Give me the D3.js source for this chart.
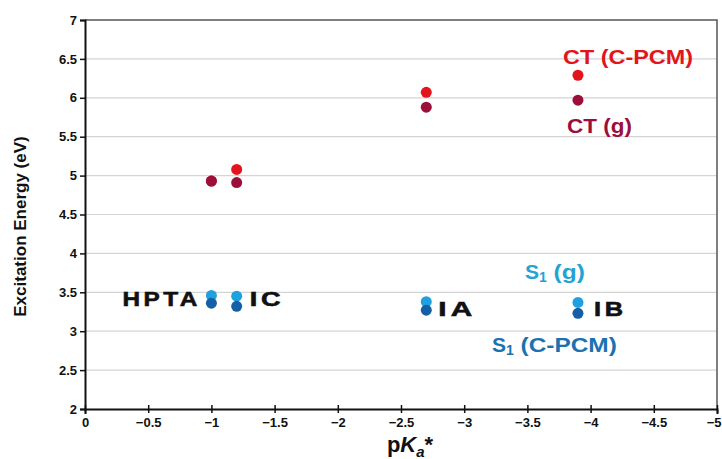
<!DOCTYPE html>
<html>
<head>
<meta charset="utf-8">
<script src="https://cdn.jsdelivr.net/npm/d3@7"></script>
<style>
  html, body { margin: 0; padding: 0; background: #fff; }
  svg text { font-family: "Liberation Sans", Arial, sans-serif; }
</style>
</head>
<body>
<svg id="chart" width="722" height="459"></svg>
<script>
// pKa* of each compound (HPTA, IC, IA, IB)
const compounds = ["HPTA", "IC", "IA", "IB"];
const pKa = [-1.0, -1.2, -2.7, -3.9];

// Excitation energies (eV)
const ctPCM = [4.93, 5.08, 6.07, 6.29];
const ctGas = [4.93, 4.91, 5.88, 5.97];
const s1Gas = [3.46, 3.45, 3.38, 3.37];
const s1PCM = [3.36, 3.32, 3.27, 3.23];

const xTicks = [0, -0.5, -1, -1.5, -2, -2.5, -3, -3.5, -4, -4.5, -5];
const yTicks = [2, 2.5, 3, 3.5, 4, 4.5, 5, 5.5, 6, 6.5, 7];

const svg = d3.select("#chart");
const m = { left: 85, right: 717, top: 20, bottom: 409 };

const x = d3.scaleLinear().domain([0, -5]).range([m.left, m.right]);
const y = d3.scaleLinear().domain([2, 7]).range([m.bottom, m.top]);

// horizontal gridlines
svg.append("g")
  .selectAll("line")
  .data(yTicks.filter(d => d > 2 && d < 7))
  .join("line")
  .attr("x1", m.left).attr("x2", m.right)
  .attr("y1", d => y(d)).attr("y2", d => y(d))
  .attr("stroke", "#d4d4d4").attr("stroke-width", 1.2);

// frame: top and right edges
svg.append("path")
  .attr("d", `M${m.left},${m.top}H${m.right}V${m.bottom}`)
  .attr("fill", "none").attr("stroke", "#555").attr("stroke-width", 1.5);

// axes
const yAxis = d3.axisLeft(y).tickValues(yTicks)
  .tickFormat(d3.format("")).tickSize(5).tickPadding(3);
const xAxis = d3.axisBottom(x).tickValues(xTicks)
  .tickFormat(d => d === 0 ? "0" : d3.format("")(d)).tickSize(5).tickPadding(4);

const gy = svg.append("g").attr("transform", `translate(${m.left},0)`).call(yAxis);
const gx = svg.append("g").attr("transform", `translate(0,${m.bottom})`).call(xAxis);

[gx, gy].forEach(g => {
  g.select(".domain").attr("stroke", "#111").attr("stroke-width", 2);
  g.selectAll(".tick line").attr("stroke", "#111").attr("stroke-width", 1.5);
  g.selectAll(".tick text")
    .attr("fill", "#111")
    .style("font-family", "'Liberation Sans', Arial, sans-serif")
    .style("font-weight", "bold")
    .style("font-size", "13px");
});
// x ticks cross the axis line
gx.selectAll(".tick line").attr("y1", -4).attr("y2", 4);
// keep the last x label inside the page
gx.selectAll(".tick text").filter(d => d === -5).attr("text-anchor", "end").attr("dx", 4);

// axis titles
svg.append("text")
  .attr("transform", `translate(26,${(m.top + m.bottom) / 2 + 12}) rotate(-90)`)
  .attr("text-anchor", "middle")
  .style("font-weight", "bold").style("font-size", "17px")
  .attr("fill", "#111")
  .text("Excitation Energy (eV)");

const xt = svg.append("text")
  .attr("x", 410).attr("y", 452)
  .attr("text-anchor", "middle")
  .style("font-weight", "bold").style("font-size", "22px")
  .attr("fill", "#111");
xt.append("tspan").text("p");
xt.append("tspan").style("font-style", "italic").text("K");
xt.append("tspan").style("font-style", "italic").style("font-size", "15px").attr("dy", 5).text("a");
xt.append("tspan").attr("dy", -5).text("*");

// series points
const series = [
  { vals: ctPCM, color: "#e3141c" },
  { vals: ctGas, color: "#9c0f3a" },
  { vals: s1Gas, color: "#1fa0df" },
  { vals: s1PCM, color: "#145fa6" }
];
series.forEach(s => {
  svg.append("g")
    .selectAll("circle")
    .data(s.vals.map((v, i) => ({ x: pKa[i], y: v })))
    .join("circle")
    .attr("cx", d => x(d.x))
    .attr("cy", d => y(d.y))
    .attr("r", 5.5)
    .attr("fill", s.color);
});

// series labels (slightly wide lettering)
const lab = (t, left, py, color, len) => svg.append("text")
  .attr("x", left).attr("y", py)
  .attr("textLength", len).attr("lengthAdjust", "spacingAndGlyphs")
  .style("font-weight", "bold").style("font-size", "21px")
  .attr("fill", color).text(t);

lab("CT (C-PCM)", 563, 64, "#e3141c", 130);
lab("CT (g)", 567, 133, "#9c0f3a", 65);

const s1 = (left, py, color, rest, len) => {
  const t = svg.append("text").attr("x", left).attr("y", py)
    .style("font-weight", "bold").style("font-size", "21px").attr("fill", color);
  t.append("tspan").text("S");
  t.append("tspan").style("font-size", "14px").attr("dy", 3).text("1");
  t.append("tspan").attr("dy", -3).attr("textLength", len).attr("lengthAdjust", "spacingAndGlyphs").text(rest);
};
s1(525, 279, "#23a3d3", " (g)", 38);
s1(492, 352, "#1a72b2", " (C-PCM)", 103);

// compound labels: heavy, wide and letter-spaced, scaled to a set width
const cmp = (t, left, py, len) => {
  const g = svg.append("g");
  const txt = g.append("text")
    .attr("x", 0).attr("y", 0)
    .style("font-family", "'Liberation Sans', Arial, sans-serif")
    .style("font-weight", "bold").style("font-size", "21px")
    .style("letter-spacing", "3px")
    .style("stroke", "#111").style("stroke-width", 0.6)
    .attr("fill", "#111").text(t);
  const w = txt.node().getComputedTextLength() - 3;
  g.attr("transform", `translate(${left},${py}) scale(${len / w},1)`);
};

cmp(compounds[0], x(pKa[0]) - 89, 306, 75);
cmp(compounds[1], x(pKa[1]) + 13, 306, 31);
cmp(compounds[2], x(pKa[2]) + 12, 316, 34);
cmp(compounds[3], x(pKa[3]) + 16, 316, 29);
</script>
</body>
</html>
